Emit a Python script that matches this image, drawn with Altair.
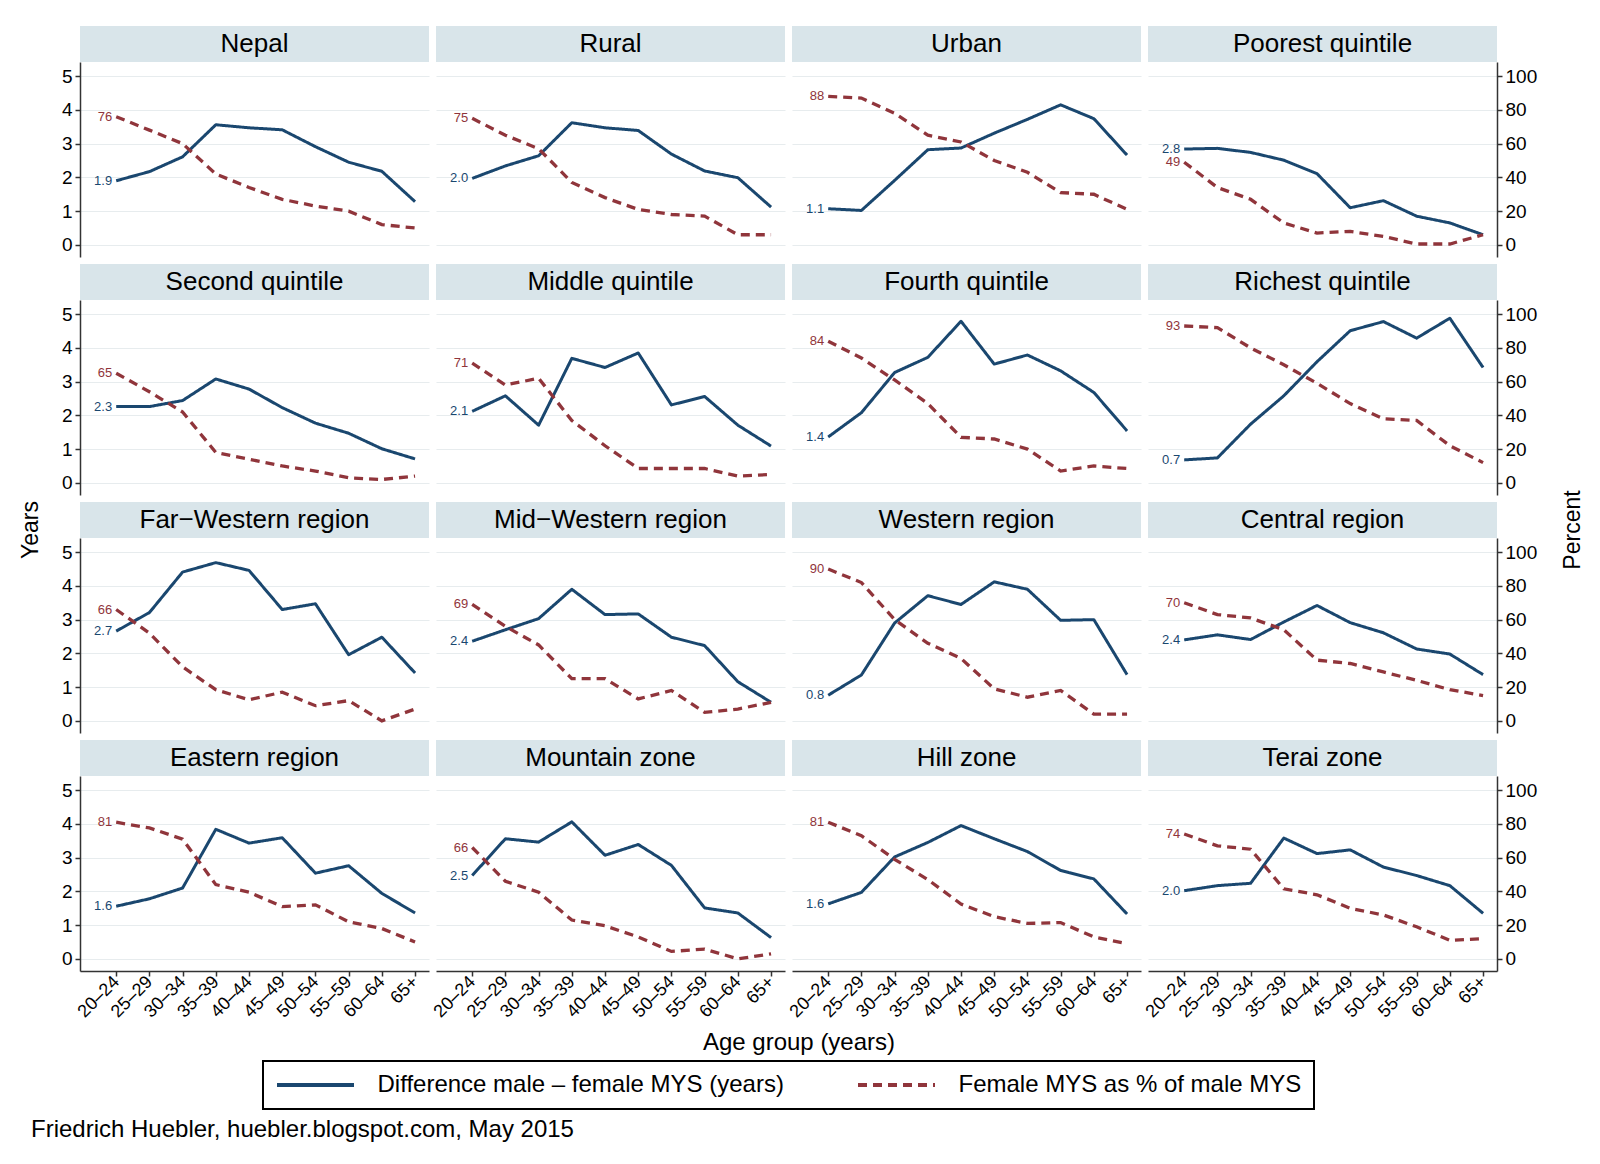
import altair as alt
import pandas as pd

FONT = "Liberation Sans, Arial, Helvetica, sans-serif"
BLUE = "#1a476f"
RED = "#90353b"
STRIP = "#d9e5ea"
GRID = "#e7ecee"
AXC = "#333333"

AGE_GROUPS = ["20–24", "25–29", "30–34", "35–39", "40–44", "45–49",
              "50–54", "55–59", "60–64", "65+"]
SERIES = ["Difference male – female MYS (years)", "Female MYS as % of male MYS"]

PANELS = ["Nepal", "Rural", "Urban", "Poorest quintile",
          "Second quintile", "Middle quintile", "Fourth quintile", "Richest quintile",
          "Far−Western region", "Mid−Western region", "Western region", "Central region",
          "Eastern region", "Mountain zone", "Hill zone", "Terai zone"]

# Difference male - female mean years of schooling (years)
DIFF_NEPAL = [1.90, 2.17, 2.61, 3.56, 3.47, 3.41, 2.91, 2.45, 2.18, 1.28]
DIFF_RURAL = [1.97, 2.34, 2.64, 3.62, 3.47, 3.39, 2.69, 2.19, 1.99, 1.12]
DIFF_URBAN = [1.07, 1.02, 1.91, 2.82, 2.87, 3.31, 3.72, 4.15, 3.74, 2.66]
DIFF_POOREST = [2.84, 2.86, 2.74, 2.51, 2.11, 1.10, 1.31, 0.85, 0.65, 0.30]
DIFF_SECOND = [2.26, 2.26, 2.44, 3.08, 2.78, 2.23, 1.77, 1.47, 1.01, 0.71]
DIFF_MIDDLE = [2.12, 2.58, 1.71, 3.69, 3.42, 3.85, 2.31, 2.56, 1.71, 1.09]
DIFF_FOURTH = [1.36, 2.08, 3.27, 3.72, 4.79, 3.52, 3.79, 3.32, 2.68, 1.54]
DIFF_RICHEST = [0.68, 0.74, 1.74, 2.58, 3.59, 4.51, 4.78, 4.29, 4.88, 3.42]
DIFF_FARWEST = [2.66, 3.21, 4.41, 4.69, 4.46, 3.30, 3.47, 1.96, 2.48, 1.42]
DIFF_MIDWEST = [2.36, 2.70, 3.03, 3.90, 3.15, 3.17, 2.48, 2.23, 1.16, 0.55]
DIFF_WESTERN = [0.76, 1.36, 2.90, 3.71, 3.45, 4.12, 3.90, 2.98, 3.00, 1.37]
DIFF_CENTRAL = [2.40, 2.55, 2.41, 2.93, 3.42, 2.91, 2.61, 2.13, 1.98, 1.37]
DIFF_EASTERN = [1.56, 1.78, 2.10, 3.84, 3.43, 3.59, 2.54, 2.76, 1.94, 1.36]
DIFF_MOUNTAIN = [2.47, 3.56, 3.46, 4.06, 3.07, 3.39, 2.77, 1.51, 1.36, 0.63]
DIFF_HILL = [1.63, 1.97, 3.02, 3.45, 3.95, 3.56, 3.18, 2.62, 2.37, 1.33]
DIFF_TERAI = [2.02, 2.17, 2.24, 3.58, 3.12, 3.23, 2.72, 2.47, 2.17, 1.35]

# Female MYS as % of male MYS
PCT_NEPAL = [76, 68, 60, 42, 34, 27, 23, 20, 12, 10]
PCT_RURAL = [75, 65, 57, 37, 28, 21, 18, 17, 6, 6]
PCT_URBAN = [88, 87, 78, 65, 61, 50, 43, 31, 30, 21]
PCT_POOREST = [49, 34, 27, 13, 7, 8, 5, 0.5, 0.5, 6]
PCT_SECOND = [65, 54, 42, 18, 14, 10, 7, 3, 2, 4]
PCT_MIDDLE = [71, 58, 62, 37, 22, 8.5, 8.5, 8.5, 4, 5]
PCT_FOURTH = [84, 74, 61, 47, 27, 26, 20, 7, 10, 8.5]
PCT_RICHEST = [93, 92, 80, 70, 59, 47, 38, 37, 22, 12]
PCT_FARWEST = [66, 52, 32, 18.5, 12.5, 17, 9, 12, 0, 7]
PCT_MIDWEST = [69, 56, 45, 25, 25, 13, 18, 5, 7, 11]
PCT_WESTERN = [90, 82, 60, 46, 37, 19, 14, 18, 4, 4]
PCT_CENTRAL = [70, 63, 61, 54, 36, 34, 29, 24, 18.5, 15]
PCT_EASTERN = [81, 77.6, 71, 44, 39.5, 31, 32, 22, 18, 10]
PCT_MOUNTAIN = [66, 46, 39.5, 23, 19.6, 13, 4.4, 5.8, 0, 3]
PCT_HILL = [81, 73, 59, 47, 32.5, 25, 21, 21.5, 13, 9]
PCT_TERAI = [74, 67, 65, 41.5, 38, 30, 26, 19, 11, 12]

DIFF = [DIFF_NEPAL, DIFF_RURAL, DIFF_URBAN, DIFF_POOREST, DIFF_SECOND, DIFF_MIDDLE,
        DIFF_FOURTH, DIFF_RICHEST, DIFF_FARWEST, DIFF_MIDWEST, DIFF_WESTERN, DIFF_CENTRAL,
        DIFF_EASTERN, DIFF_MOUNTAIN, DIFF_HILL, DIFF_TERAI]
PCT = [PCT_NEPAL, PCT_RURAL, PCT_URBAN, PCT_POOREST, PCT_SECOND, PCT_MIDDLE,
       PCT_FOURTH, PCT_RICHEST, PCT_FARWEST, PCT_MIDWEST, PCT_WESTERN, PCT_CENTRAL,
       PCT_EASTERN, PCT_MOUNTAIN, PCT_HILL, PCT_TERAI]

YEAR_TICKS = [0, 1, 2, 3, 4, 5]
PCT_TICKS = [0, 20, 40, 60, 80, 100]

W, H = 349, 195
STRIP_H = 36
YDOM = [-0.36, 5.42]
PDOM = [-7.2, 108.4]
XDOM = [-1.09, 9.42]

label_expr = "[" + ",".join("'" + a + "'" for a in AGE_GROUPS) + "][datum.value]"

# long thin legend symbol (custom path in unit coords, scaled by sqrt(size)/2)
LEG = alt.Legend(title=None, orient="none", legendX=183, legendY=999,
                 direction="horizontal", columns=2,
                 symbolType="M-3.85,0H3.85", symbolSize=400, symbolStrokeWidth=4,
                 symbolOffset=28.5, labelFontSize=24,
                 labelFont=FONT, labelColor="black", labelOffset=50,
                 columnPadding=66, padding=12, strokeColor="black",
                 labelLimit=700, cornerRadius=0)

color_enc = alt.Color("series:N", scale=alt.Scale(domain=SERIES, range=[BLUE, RED]), legend=LEG)
dash_enc = alt.StrokeDash("series:N", scale=alt.Scale(domain=SERIES, range=[[1, 0], [9, 6]]), legend=LEG)


def make_panel(i):
    r, c = divmod(i, 4)
    name = PANELS[i]
    dfb = pd.DataFrame({"idx": list(range(10)), "age": AGE_GROUPS, "diff": DIFF[i],
                        "series": SERIES[0]})
    dfr = pd.DataFrame({"idx": list(range(10)), "age": AGE_GROUPS, "pct": PCT[i],
                        "series": SERIES[1]})

    if r == 3:
        xaxis = alt.Axis(values=list(range(10)), labelExpr=label_expr, labelAngle=315,
                         labelAlign="right", labelBaseline="middle", labelFontSize=18,
                         labelFont=FONT, labelColor="black", tickSize=5, tickColor=AXC,
                         domainColor=AXC, domainWidth=1.5, tickWidth=1.5, title=None,
                         grid=False, labelPadding=3, labelOverlap=False, labelBound=False)
    else:
        xaxis = None
    xenc = alt.X("idx:Q", scale=alt.Scale(domain=XDOM, nice=False, zero=False), axis=xaxis)

    if c == 0:
        yaxis = alt.Axis(values=YEAR_TICKS, title=None, grid=True, gridColor=GRID,
                         gridWidth=1.2, labelFontSize=19, labelFont=FONT,
                         labelColor="black", tickSize=5, tickColor=AXC, tickWidth=1.5,
                         domainColor=AXC, domainWidth=1.5, labelPadding=3)
    else:
        yaxis = alt.Axis(values=YEAR_TICKS, title=None, grid=True, gridColor=GRID,
                         gridWidth=1.2, labels=False, ticks=False, domain=False)
    yenc = alt.Y("diff:Q", scale=alt.Scale(domain=YDOM, nice=False, zero=False), axis=yaxis)

    if c == 3:
        paxis = alt.Axis(values=PCT_TICKS, orient="right", title=None, grid=False,
                         labelFontSize=19, labelFont=FONT, labelColor="black",
                         tickSize=5, tickColor=AXC, tickWidth=1.5, domainColor=AXC,
                         domainWidth=1.5, labelPadding=3)
    else:
        paxis = None
    penc = alt.Y("pct:Q", scale=alt.Scale(domain=PDOM, nice=False, zero=False), axis=paxis)

    blue_line = alt.Chart(dfb).mark_line(strokeWidth=3, strokeCap="butt", strokeJoin="round").encode(
        x=xenc, y=yenc, color=color_enc, strokeDash=dash_enc)
    blue_txt = alt.Chart(dfb).transform_filter("datum.idx == 0").mark_text(
        align="right", baseline="middle", dx=-4, fontSize=13, font=FONT, color=BLUE).encode(
        x=xenc, y=yenc, text=alt.Text("diff:Q", format=".1f"))
    red_line = alt.Chart(dfr).mark_line(strokeWidth=3.3, strokeCap="butt").encode(
        x=xenc, y=penc, color=color_enc, strokeDash=dash_enc)
    red_txt = alt.Chart(dfr).transform_filter("datum.idx == 0").mark_text(
        align="right", baseline="middle", dx=-4, fontSize=13, font=FONT, color=RED).encode(
        x=xenc, y=penc, text=alt.Text("pct:Q", format=".0f"))

    sdf = pd.DataFrame({"name": [name]})
    strip = alt.Chart(sdf).mark_rect(color=STRIP).encode(
        x=alt.value(0), x2=alt.value(W), y=alt.value(-STRIP_H), y2=alt.value(0))
    strip_txt = alt.Chart(sdf).mark_text(fontSize=26, font=FONT, color="black",
                                         baseline="middle", align="center").encode(
        x=alt.value(W / 2), y=alt.value(-STRIP_H / 2), text="name:N")

    layers = [strip, strip_txt, alt.layer(blue_line, blue_txt), alt.layer(red_line, red_txt)]

    if i == 0:
        gdf = pd.DataFrame({"t": ["Years"]})
        layers.append(alt.Chart(gdf).mark_text(fontSize=23, font=FONT, color="black", angle=270,
                                               align="center", baseline="middle").encode(
            x=alt.value(-49), y=alt.value(468), text="t:N"))
        gdf2 = pd.DataFrame({"t": ["Percent"]})
        layers.append(alt.Chart(gdf2).mark_text(fontSize=23, font=FONT, color="black", angle=270,
                                                align="center", baseline="middle").encode(
            x=alt.value(1493), y=alt.value(468), text="t:N"))
        gdf3 = pd.DataFrame({"t": ["Age group (years)"]})
        layers.append(alt.Chart(gdf3).mark_text(fontSize=24, font=FONT, color="black",
                                                align="center", baseline="middle").encode(
            x=alt.value(719), y=alt.value(981), text="t:N"))
        gdf4 = pd.DataFrame({"t": ["Friedrich Huebler, huebler.blogspot.com, May 2015"]})
        layers.append(alt.Chart(gdf4).mark_text(fontSize=24, font=FONT, color="black",
                                                align="left", baseline="middle").encode(
            x=alt.value(-49), y=alt.value(1068), text="t:N"))

    return alt.layer(*layers).resolve_scale(y="independent").properties(width=W, height=H)


panels = [make_panel(i) for i in range(16)]

chart = alt.concat(*panels, columns=4, spacing={"row": 43, "column": 7}, bounds="flush").properties(
    padding={"left": 12, "top": 18, "right": 5, "bottom": 5},
    background="white",
).configure_view(stroke=None).configure_legend(strokeWidth=2)

chart.save("out.html", embed_options={"renderer": "svg", "actions": False})
